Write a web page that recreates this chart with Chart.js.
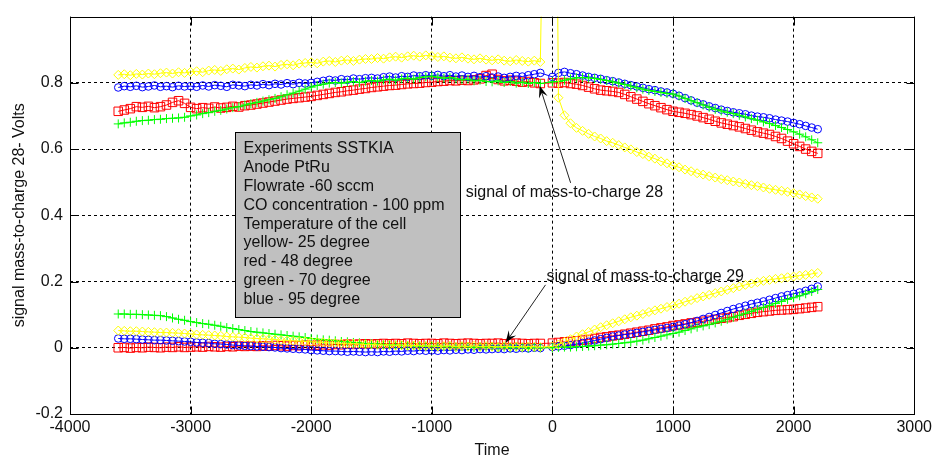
<!DOCTYPE html>
<html>
<head>
<meta charset="utf-8">
<title>signal mass-to-charge 28 / 29</title>
<script src="https://cdn.jsdelivr.net/npm/chart.js@4.4.0/dist/chart.umd.min.js"></script>
<style>
  html, body { margin: 0; padding: 0; background: #fff; }
</style>
</head>
<body>
<canvas id="massChart" width="936" height="461"></canvas>
<script>
// time axis (s) - gap between -100 and 0
const time = [
  -3600, -3550, -3500, -3450, -3400, -3350, -3300, -3250, -3200, -3150, -3100, -3050,
  -3000, -2950, -2900, -2850, -2800, -2750, -2700, -2650, -2600, -2550,
  -2500, -2450, -2400, -2350, -2300, -2250, -2200, -2150, -2100, -2050,
  -2000, -1950, -1900, -1850, -1800, -1750, -1700, -1650, -1600, -1550,
  -1500, -1450, -1400, -1350, -1300, -1250, -1200, -1150, -1100, -1050,
  -1000, -950, -900, -850, -800, -750, -700, -650, -600, -550,
  -500, -450, -400, -350, -300, -250, -200, -150, -100,
  0, 50, 100, 150, 200, 250, 300, 350, 400, 450,
  500, 550, 600, 650, 700, 750, 800, 850, 900, 950,
  1000, 1050, 1100, 1150, 1200, 1250, 1300, 1350, 1400, 1450,
  1500, 1550, 1600, 1650, 1700, 1750, 1800, 1850, 1900, 1950,
  2000, 2050, 2100, 2150, 2200
];

// mass-to-charge 28
const yellow28 = [
  0.824, 0.826, 0.823, 0.827, 0.825, 0.828, 0.826, 0.829, 0.831, 0.828, 0.832, 0.830,
  0.833, 0.835, 0.832, 0.837, 0.839, 0.836, 0.841, 0.843, 0.840, 0.845,
  0.848, 0.846, 0.850, 0.852, 0.849, 0.854, 0.856, 0.853, 0.858, 0.860,
  0.862, 0.859, 0.864, 0.866, 0.863, 0.867, 0.869, 0.866, 0.870, 0.872,
  0.872, 0.875, 0.873, 0.877, 0.879, 0.876, 0.880, 0.882, 0.879, 0.883,
  0.881, 0.878, 0.880, 0.876, 0.874, 0.877, 0.873, 0.871, 0.874, 0.870,
  0.868, 0.871, 0.867, 0.865, 0.869, 0.866, 0.864, 0.867, 0.863,
  3.0, 0.755, 0.702, 0.678, 0.664, 0.655, 0.646, 0.638, 0.632, 0.624,
  0.619, 0.612, 0.605, 0.599, 0.591, 0.585, 0.577, 0.571, 0.563, 0.557,
  0.550, 0.545, 0.538, 0.533, 0.527, 0.523, 0.518, 0.514, 0.509, 0.506,
  0.502, 0.499, 0.495, 0.491, 0.488, 0.484, 0.480, 0.477, 0.474, 0.471,
  0.467, 0.463, 0.458, 0.454, 0.450
];
const red28 = [
  0.714, 0.718, 0.722, 0.728, 0.726, 0.729, 0.725, 0.728, 0.733, 0.741, 0.746, 0.738,
  0.726, 0.722, 0.725, 0.723, 0.727, 0.724, 0.726, 0.729, 0.727, 0.731,
  0.733, 0.736, 0.739, 0.742, 0.745, 0.748, 0.751, 0.753, 0.755, 0.757,
  0.759, 0.762, 0.765, 0.768, 0.771, 0.773, 0.776, 0.778, 0.781, 0.783,
  0.786, 0.788, 0.790, 0.792, 0.793, 0.795, 0.797, 0.798, 0.799, 0.801,
  0.802, 0.804, 0.805, 0.807, 0.806, 0.808, 0.807, 0.809, 0.812, 0.822,
  0.826, 0.810, 0.806, 0.808, 0.805, 0.802, 0.804, 0.800, 0.798,
  0.800, 0.799, 0.801, 0.798, 0.796, 0.792, 0.787, 0.782, 0.778, 0.776,
  0.774, 0.771, 0.765, 0.758, 0.751, 0.744, 0.737, 0.731, 0.725, 0.719,
  0.714, 0.711, 0.708, 0.704, 0.700, 0.695, 0.690, 0.684, 0.679, 0.675,
  0.671, 0.667, 0.662, 0.657, 0.652, 0.648, 0.644, 0.638, 0.632, 0.624,
  0.616, 0.608, 0.600, 0.593, 0.587
];
const green28 = [
  0.676, 0.679, 0.681, 0.684, 0.686, 0.687, 0.689, 0.690, 0.692, 0.693, 0.694, 0.696,
  0.700, 0.703, 0.707, 0.710, 0.714, 0.717, 0.721, 0.725, 0.728, 0.733,
  0.737, 0.741, 0.745, 0.749, 0.753, 0.758, 0.764, 0.769, 0.775, 0.781,
  0.787, 0.792, 0.796, 0.799, 0.801, 0.799, 0.802, 0.804, 0.801, 0.805,
  0.807, 0.805, 0.809, 0.811, 0.808, 0.812, 0.814, 0.811, 0.816, 0.818,
  0.820, 0.817, 0.814, 0.816, 0.812, 0.809, 0.811, 0.806, 0.808, 0.804,
  0.803, 0.806, 0.801, 0.804, 0.799, 0.802, 0.798, 0.801, 0.798,
  0.803, 0.804, 0.808, 0.812, 0.815, 0.816, 0.815, 0.813, 0.810, 0.807,
  0.803, 0.799, 0.795, 0.790, 0.785, 0.781, 0.777, 0.774, 0.771, 0.768,
  0.766, 0.760, 0.753, 0.746, 0.740, 0.733, 0.726, 0.720, 0.715, 0.711,
  0.707, 0.702, 0.697, 0.692, 0.687, 0.682, 0.677, 0.671, 0.665, 0.659,
  0.652, 0.645, 0.637, 0.628, 0.619
];
const blue28 = [
  0.786, 0.790, 0.788, 0.791, 0.787, 0.789, 0.792, 0.788, 0.790, 0.787, 0.791, 0.789,
  0.790, 0.788, 0.792, 0.789, 0.793, 0.791, 0.788, 0.794, 0.792, 0.790,
  0.794, 0.792, 0.796, 0.793, 0.797, 0.795, 0.799, 0.796, 0.800, 0.798,
  0.800, 0.803, 0.806, 0.809, 0.807, 0.811, 0.809, 0.813, 0.811, 0.814,
  0.815, 0.813, 0.817, 0.819, 0.816, 0.820, 0.818, 0.822, 0.820, 0.823,
  0.821, 0.824, 0.820, 0.823, 0.819, 0.822, 0.818, 0.821, 0.817, 0.820,
  0.816, 0.819, 0.815, 0.818, 0.821, 0.819, 0.823, 0.826, 0.830,
  0.818, 0.830, 0.833, 0.829, 0.826, 0.822, 0.818, 0.815, 0.812, 0.808,
  0.805, 0.801, 0.797, 0.793, 0.789, 0.785, 0.781, 0.778, 0.774, 0.771,
  0.767, 0.761, 0.754, 0.747, 0.740, 0.735, 0.729, 0.724, 0.719, 0.715,
  0.711, 0.708, 0.705, 0.701, 0.698, 0.696, 0.693, 0.689, 0.686, 0.683,
  0.679, 0.675, 0.670, 0.665, 0.660
];

// mass-to-charge 29
const yellow29 = [
  0.052, 0.051, 0.050, 0.050, 0.049, 0.048, 0.047, 0.046, 0.046, 0.045, 0.044, 0.043,
  0.042, 0.040, 0.039, 0.038, 0.037, 0.036, 0.034, 0.033, 0.032, 0.031,
  0.029, 0.028, 0.027, 0.026, 0.025, 0.023, 0.022, 0.021, 0.020, 0.019,
  0.018, 0.017, 0.016, 0.015, 0.014, 0.013, 0.012, 0.012, 0.011, 0.010,
  0.010, 0.009, 0.008, 0.009, 0.007, 0.008, 0.006, 0.007, 0.006, 0.005,
  0.006, 0.004, 0.005, 0.006, 0.003, 0.005, 0.004, 0.006, 0.003, 0.005,
  0.004, 0.002, 0.005, 0.003, 0.004, 0.002, 0.004, 0.003, 0.002,
  0.004, 0.010, 0.018, 0.026, 0.034, 0.041, 0.048, 0.055, 0.062, 0.068,
  0.074, 0.080, 0.086, 0.092, 0.097, 0.102, 0.108, 0.113, 0.118, 0.123,
  0.127, 0.133, 0.139, 0.144, 0.150, 0.155, 0.160, 0.165, 0.170, 0.175,
  0.180, 0.185, 0.190, 0.194, 0.198, 0.202, 0.205, 0.208, 0.210, 0.213,
  0.215, 0.218, 0.220, 0.223, 0.226
];
const red29 = [
  0.000, 0.001, -0.001, 0.001, 0.000, 0.002, 0.001, 0.000, 0.002, 0.001, 0.003, 0.001,
  0.002, 0.003, 0.002, 0.004, 0.003, 0.002, 0.004, 0.003, 0.005, 0.004,
  0.005, 0.004, 0.006, 0.005, 0.007, 0.006, 0.005, 0.007, 0.006, 0.008,
  0.007, 0.008, 0.009, 0.008, 0.010, 0.009, 0.011, 0.010, 0.011, 0.012,
  0.011, 0.012, 0.013, 0.012, 0.013, 0.012, 0.014, 0.013, 0.012, 0.013,
  0.013, 0.012, 0.014, 0.013, 0.012, 0.013, 0.014, 0.013, 0.012, 0.013,
  0.013, 0.014, 0.012, 0.013, 0.014, 0.013, 0.012, 0.013, 0.013,
  0.014, 0.016, 0.018, 0.019, 0.021, 0.023, 0.025, 0.028, 0.031, 0.033,
  0.036, 0.038, 0.041, 0.044, 0.047, 0.050, 0.053, 0.057, 0.060, 0.063,
  0.067, 0.069, 0.072, 0.075, 0.077, 0.080, 0.083, 0.086, 0.089, 0.091,
  0.094, 0.098, 0.101, 0.104, 0.107, 0.109, 0.111, 0.113, 0.114, 0.115,
  0.116, 0.118, 0.120, 0.122, 0.124
];
const green29 = [
  0.102, 0.102, 0.101, 0.101, 0.100, 0.099, 0.098, 0.097, 0.094, 0.090, 0.086, 0.083,
  0.079, 0.076, 0.073, 0.071, 0.068, 0.065, 0.061, 0.058, 0.055, 0.052,
  0.049, 0.047, 0.045, 0.043, 0.041, 0.039, 0.037, 0.035, 0.033, 0.031,
  0.028, 0.026, 0.024, 0.023, 0.021, 0.019, 0.018, 0.016, 0.015, 0.013,
  0.012, 0.011, 0.010, 0.009, 0.008, 0.007, 0.007, 0.006, 0.005, 0.005,
  0.004, 0.005, 0.003, 0.004, 0.002, 0.004, 0.003, 0.001, 0.003, 0.002,
  0.003, 0.001, 0.002, 0.000, 0.002, 0.001, -0.001, 0.001, 0.000,
  0.000, 0.001, 0.002, 0.002, 0.003, 0.004, 0.005, 0.006, 0.008, 0.009,
  0.011, 0.013, 0.015, 0.017, 0.020, 0.023, 0.027, 0.031, 0.035, 0.039,
  0.043, 0.047, 0.052, 0.057, 0.062, 0.066, 0.070, 0.075, 0.080, 0.086,
  0.092, 0.098, 0.104, 0.110, 0.116, 0.122, 0.128, 0.134, 0.140, 0.146,
  0.151, 0.157, 0.163, 0.170, 0.176
];
const blue29 = [
  0.028, 0.027, 0.027, 0.026, 0.025, 0.024, 0.023, 0.023, 0.022, 0.021, 0.020, 0.019,
  0.018, 0.016, 0.015, 0.014, 0.012, 0.011, 0.010, 0.008, 0.007, 0.006,
  0.005, 0.004, 0.003, 0.002, 0.001, -0.001, -0.002, -0.003, -0.004, -0.005,
  -0.007, -0.008, -0.009, -0.010, -0.010, -0.011, -0.012, -0.011, -0.012, -0.013,
  -0.012, -0.013, -0.011, -0.012, -0.010, -0.011, -0.009, -0.010, -0.008, -0.009,
  -0.008, -0.009, -0.007, -0.008, -0.006, -0.007, -0.005, -0.006, -0.004, -0.005,
  -0.004, -0.003, -0.004, -0.002, -0.003, -0.001, -0.002, 0.000, -0.001,
  0.002, 0.004, 0.006, 0.008, 0.011, 0.014, 0.018, 0.022, 0.026, 0.030,
  0.034, 0.037, 0.040, 0.042, 0.045, 0.048, 0.051, 0.054, 0.057, 0.060,
  0.063, 0.067, 0.071, 0.076, 0.081, 0.087, 0.093, 0.099, 0.105, 0.111,
  0.117, 0.122, 0.127, 0.132, 0.136, 0.140, 0.145, 0.150, 0.155, 0.159,
  0.163, 0.167, 0.172, 0.178, 0.185
];

const xTicks = [-4000, -3000, -2000, -1000, 0, 1000, 2000, 3000];
const yTicks = [-0.2, 0, 0.2, 0.4, 0.6, 0.8];

const noteLines = [
  'Experiments SSTKIA',
  'Anode PtRu',
  'Flowrate -60 sccm',
  'CO concentration - 100 ppm',
  'Temperature of the cell',
  'yellow- 25 degree',
  'red - 48 degree',
  'green - 70 degree',
  'blue - 95 degree'
];

const FONT = '"Liberation Sans", Arial, sans-serif';
const TEXT = '#111';

function series(values, color, style, radius) {
  return {
    data: time.map((t, i) => ({ x: t, y: values[i] })),
    showLine: true,
    borderColor: color,
    borderWidth: 1,
    backgroundColor: 'rgba(0,0,0,0)',
    pointStyle: style,
    pointRadius: radius,
    pointBorderColor: color,
    pointBorderWidth: 1,
    pointBackgroundColor: 'rgba(0,0,0,0)',
    tension: 0
  };
}

function arrow(ctx, x1, y1, x2, y2) {
  const ang = Math.atan2(y2 - y1, x2 - x1);
  const len = 12, half = 4.5;
  ctx.beginPath();
  ctx.moveTo(x1, y1);
  ctx.lineTo(x2 - Math.cos(ang) * len * 0.6, y2 - Math.sin(ang) * len * 0.6);
  ctx.stroke();
  const bx = x2 - Math.cos(ang) * len, by = y2 - Math.sin(ang) * len;
  ctx.beginPath();
  ctx.moveTo(x2, y2);
  ctx.lineTo(bx + Math.sin(ang) * half, by - Math.cos(ang) * half);
  ctx.lineTo(x2 - Math.cos(ang) * len * 0.6, y2 - Math.sin(ang) * len * 0.6);
  ctx.lineTo(bx - Math.sin(ang) * half, by + Math.cos(ang) * half);
  ctx.closePath();
  ctx.fill();
}

// box frame, inward ticks and the text notes
const frameAndNotes = {
  id: 'frameAndNotes',
  afterDraw(chart) {
    const { ctx, chartArea: a, scales: { x, y } } = chart;
    const L = Math.round(a.left) + 0.5, R = Math.round(a.right) + 0.5;
    const T = Math.round(a.top) + 0.5, B = Math.round(a.bottom) + 0.5;
    ctx.save();
    ctx.strokeStyle = '#000';
    ctx.lineWidth = 1;
    ctx.strokeRect(L, T, R - L, B - T);
    ctx.beginPath();
    xTicks.forEach(v => {
      const p = Math.round(x.getPixelForValue(v)) + 0.5;
      ctx.moveTo(p, B); ctx.lineTo(p, B - 8);
      ctx.moveTo(p, T); ctx.lineTo(p, T + 8);
    });
    yTicks.forEach(v => {
      const p = Math.round(y.getPixelForValue(v)) + 0.5;
      ctx.moveTo(L, p); ctx.lineTo(L + 8, p);
      ctx.moveTo(R, p); ctx.lineTo(R - 8, p);
    });
    ctx.stroke();

    // note box
    const bx1 = Math.round(x.getPixelForValue(-2632)) + 0.5;
    const bx2 = Math.round(x.getPixelForValue(-769)) + 0.5;
    const by1 = Math.round(y.getPixelForValue(0.652)) + 0.5;
    const by2 = Math.round(y.getPixelForValue(0.092)) + 0.5;
    ctx.fillStyle = '#c0c0c0';
    ctx.fillRect(bx1, by1, bx2 - bx1, by2 - by1);
    ctx.strokeRect(bx1, by1, bx2 - bx1, by2 - by1);
    ctx.fillStyle = TEXT;
    ctx.font = '16px ' + FONT;
    ctx.textAlign = 'left';
    ctx.textBaseline = 'middle';
    noteLines.forEach((s, i) => ctx.fillText(s, bx1 + 8, by1 + 16 + i * 18.9));

    ctx.fillText('signal of mass-to-charge 28', x.getPixelForValue(-719), y.getPixelForValue(0.468));
    ctx.fillText('signal of mass-to-charge 29', x.getPixelForValue(-49), y.getPixelForValue(0.216));

    ctx.strokeStyle = '#222';
    ctx.fillStyle = '#000';
    arrow(ctx, x.getPixelForValue(151), y.getPixelForValue(0.498),
               x.getPixelForValue(-106), y.getPixelForValue(0.791));
    arrow(ctx, x.getPixelForValue(-57), y.getPixelForValue(0.19),
               x.getPixelForValue(-388), y.getPixelForValue(0.015));
    ctx.restore();
  }
};

Chart.defaults.font.family = FONT;
Chart.defaults.font.size = 16;
Chart.defaults.color = TEXT;

new Chart(document.getElementById('massChart'), {
  type: 'scatter',
  data: {
    datasets: [
      series(yellow28, '#ffff00', 'rectRot', 4.5),
      series(yellow29, '#ffff00', 'rectRot', 4.5),
      series(green28, '#00ff00', 'cross', 4.5),
      series(green29, '#00ff00', 'cross', 4.5),
      series(blue28, '#0000ff', 'circle', 3.8),
      series(blue29, '#0000ff', 'circle', 3.8),
      series(red28, '#ff0000', 'rect', 6),
      series(red29, '#ff0000', 'rect', 6)
    ]
  },
  options: {
    responsive: false,
    animation: false,
    layout: { padding: { top: 8, right: 20, left: 0, bottom: 0 } },
    plugins: { legend: { display: false }, tooltip: { enabled: false } },
    scales: {
      x: {
        type: 'linear',
        min: -4000,
        max: 3000,
        afterBuildTicks: s => { s.ticks = xTicks.map(v => ({ value: v })); },
        afterFit: s => { s.height = 47; },
        ticks: { autoSkip: false, maxRotation: 0, padding: 4, callback: v => String(v) },
        grid: { color: '#000', lineWidth: 1, drawTicks: false },
        border: { display: false, dash: [3, 3] },
        title: { display: true, text: 'Time', padding: { top: 0, bottom: 1 } }
      },
      y: {
        type: 'linear',
        min: -0.2,
        max: 1.0,
        afterBuildTicks: s => { s.ticks = yTicks.map(v => ({ value: v })); },
        afterFit: s => { s.width = 70; },
        ticks: { padding: 7, callback: v => String(v) },
        grid: { color: '#000', lineWidth: 1, drawTicks: false },
        border: { display: false, dash: [3, 3] },
        title: { display: true, text: 'signal mass-to-charge 28- Volts', padding: { top: 10, bottom: 0 } }
      }
    }
  },
  plugins: [frameAndNotes]
});
</script>
</body>
</html>
